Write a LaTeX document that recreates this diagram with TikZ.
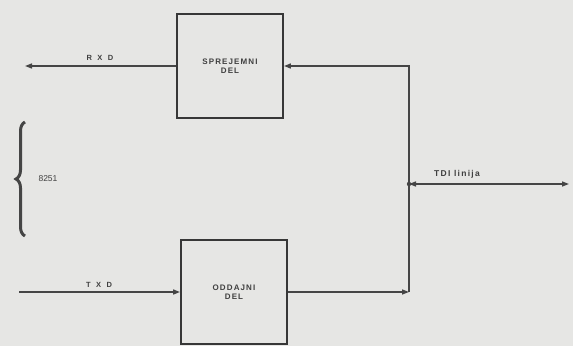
\documentclass[tikz,border=0pt]{standalone}
\usepackage{fontspec}
\setmainfont{Liberation Sans}
\usetikzlibrary{arrows.meta,decorations.pathreplacing}
\definecolor{bg}{HTML}{E6E6E4}
\definecolor{ink}{HTML}{454545}
\definecolor{txt}{HTML}{404040}
\tikzset{
  blk/.style={draw=ink!80!black, line width=1.9pt, minimum width=106pt, minimum height=104pt, inner sep=0pt, align=center, text=txt, font=\fontsize{8}{9.5}\selectfont\bfseries\addfontfeature{LetterSpace=14}},
  wire/.style={draw=ink, line width=1.5pt},
  tip/.style={Triangle[length=7pt, width=5pt]},
  arr/.style={wire, -{Triangle[length=7pt, width=5pt]}},
  darr/.style={wire, {Triangle[length=7pt, width=5pt]}-{Triangle[length=7pt, width=5pt]}},
  lbl/.style={text=txt, font=\fontsize{7.5}{8}\selectfont\bfseries, inner sep=0pt},
}
\begin{document}
\begin{tikzpicture}[x=1pt, y=-1pt]
\useasboundingbox (0,0) rectangle (573,346);
\fill[bg] (0,0) rectangle (573,346);
\node[blk] (sp) at (230,66) {SPREJEMNI\\DEL};
\node[blk] (od) at (234,292) {ODDAJNI\\DEL};
\coordinate (rxd) at (25,66);
\coordinate (txd) at (19,292);
\coordinate (jB) at (409,292);
\coordinate (jT) at (409,66);
\coordinate (jM) at (409,184);
\coordinate (tdi) at (569,184);
\draw[arr] (sp.west) -- (rxd);
\draw[arr] (txd) -- (od.west);
\draw[arr] (od.east) -- (jB);
\draw[arr] (jB) -- (jT) -- (sp.east);
\draw[darr] (jM) -- (tdi);
\fill[ink] (jM) circle (2.2pt);
\node[lbl, font=\fontsize{7.5}{8}\selectfont\bfseries\addfontfeature{LetterSpace=45}] (rl) at (100,58) {R X D};
\node[lbl, font=\fontsize{7.5}{8}\selectfont\bfseries\addfontfeature{LetterSpace=45}] (tl) at (99,285) {T X D};
\node[lbl, font=\fontsize{8.5}{9}\selectfont\bfseries\addfontfeature{LetterSpace=15}] (dl) at (457,174) {TDI linija};
\node[lbl, font=\fontsize{8.5}{9}\selectfont] (cl) at (48,179) {8251};
\draw[ink, line width=3pt, decorate, decoration={brace, amplitude=9pt, aspect=0.5}] (25,236) -- (25,122);
\end{tikzpicture}
\end{document}
